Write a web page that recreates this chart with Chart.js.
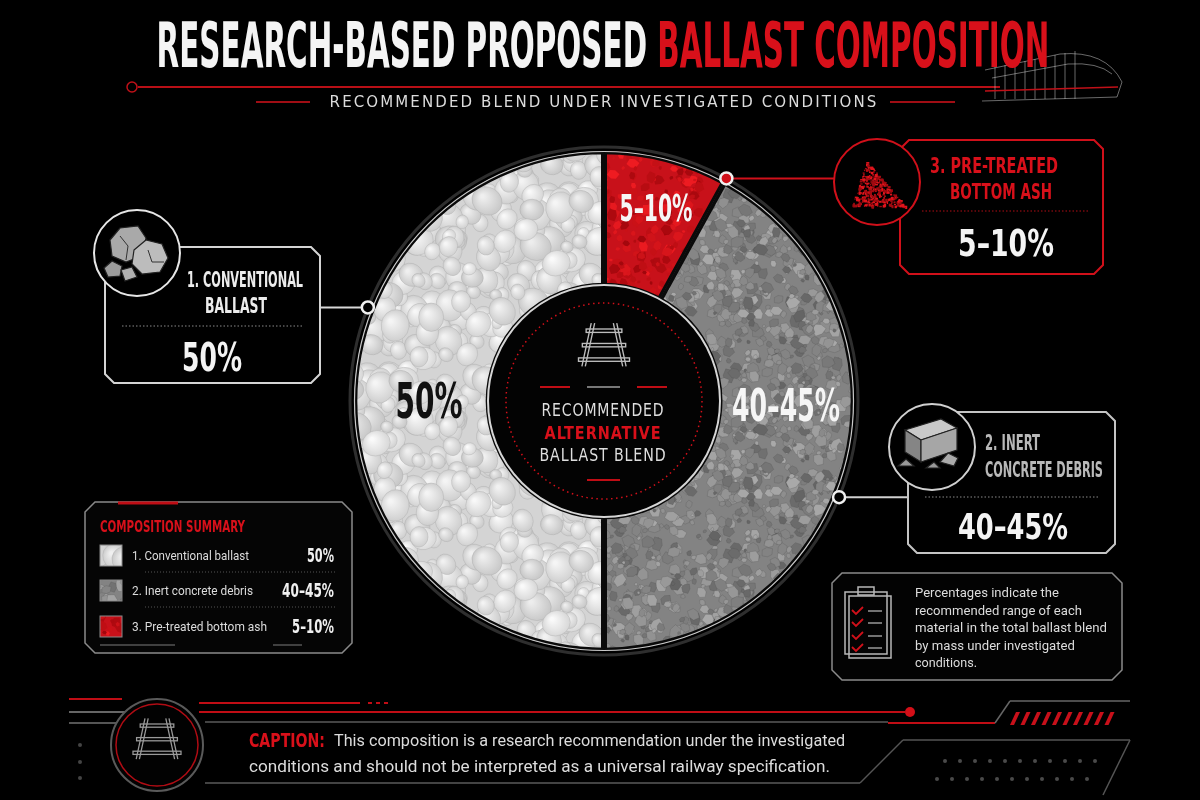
<!DOCTYPE html>
<html>
<head>
<meta charset="utf-8">
<title>Research-based proposed ballast composition</title>
<script src="https://cdn.jsdelivr.net/npm/chart.js@4.4.1/dist/chart.umd.min.js"></script>
<style>
  html, body { margin: 0; padding: 0; background: #000; }
  #wrap { position: relative; width: 1200px; height: 800px; overflow: hidden; background: #000; }
  #wrap canvas { position: absolute; left: 0; top: 0; }
  .t { position: absolute; white-space: nowrap; line-height: 1; }
</style>
</head>
<body>
<div id="wrap"><canvas id="ringChart" width="1200" height="800"></canvas></div>
<script>
var categories = ['1. Conventional ballast', '2. Inert concrete debris', '3. Pre-treated bottom ash'];
var shares = [50, 42, 8];                       // % of blend by mass (slice size)
var valueLabels = ['50%', '40–45%', '5–10%'];   // ranges printed on the graphic
var calloutTitles = [['1. CONVENTIONAL', 'BALLAST'], ['2. INERT', 'CONCRETE DEBRIS'], ['3. PRE-TREATED', 'BOTTOM ASH']];
var drawOrder = [2, 1, 0];                      // clockwise from 12 o'clock: ash, concrete, conventional

var COND = '"DejaVu Sans Condensed", "Liberation Sans Narrow", "DejaVu Sans", sans-serif';
var BODY = 'Roboto, "Noto Sans", sans-serif';
var RED = '#d0101a';
var wrap = document.getElementById('wrap');

// text overlay, squeezed to the width it has in the reference
function addText(html, x, y, o) {
    var el = document.createElement('div');
    el.className = 't';
    el.innerHTML = html;
    el.style.fontFamily = o.family || COND;
    el.style.fontSize = o.size + 'px';
    el.style.fontWeight = o.weight || 700;
    el.style.color = o.color || '#f2f2f2';
    if (o.ls) el.style.letterSpacing = o.ls + 'px';
    wrap.appendChild(el);
    var natural = el.getBoundingClientRect().width;
    var k = o.w ? o.w / natural : 1;
    var a = o.align || 'c';
    var tx = a === 'l' ? 0 : (a === 'r' ? -100 : -50);
    el.style.left = x + 'px';
    el.style.top = y + 'px';
    el.style.transformOrigin = (a === 'l' ? '0%' : (a === 'r' ? '100%' : '50%')) + ' 50%';
    el.style.transform = 'translate(' + tx + '%,-50%) scaleX(' + k.toFixed(3) + ')';
    return el;
}

function seeded(seed) {
    var s = seed;
    return function () { s = (s * 16807) % 2147483647; return s / 2147483647; };
}

// stone / concrete / ash textures for the slices
function makeTile(kind) {
    var N = 180;
    var c = document.createElement('canvas');
    c.width = c.height = N;
    var g = c.getContext('2d');
    var rnd = seeded([11, 23, 37][kind] * 1000 + 7);
    g.fillStyle = ['#d4d4d4', '#838383', '#c8111a'][kind];
    g.fillRect(0, 0, N, N);
    var count = [170, 520, 480][kind];
    for (var n = 0; n < count; n++) {
        var x = rnd() * N, y = rnd() * N;
        var r = kind === 0 ? 6 + rnd() * 10 : (kind === 1 ? 1.5 + rnd() * 6 : 1.5 + rnd() * 5);
        var v = rnd();
        [-N, 0, N].forEach(function (dx) {
            [-N, 0, N].forEach(function (dy) {
                var px = x + dx, py = y + dy;
                if (px < -20 || px > N + 20 || py < -20 || py > N + 20) return;
                g.beginPath();
                if (kind === 0) {
                    g.ellipse(px, py, r, r * 0.88, v * 3, 0, Math.PI * 2);
                    var gr = g.createRadialGradient(px - r * 0.3, py - r * 0.3, r * 0.1, px, py, r);
                    var hi = Math.floor(236 + v * 16), lo = Math.floor(196 + v * 20);
                    gr.addColorStop(0, 'rgb(' + hi + ',' + hi + ',' + hi + ')');
                    gr.addColorStop(1, 'rgb(' + lo + ',' + lo + ',' + lo + ')');
                    g.fillStyle = gr;
                    g.fill();
                    g.strokeStyle = 'rgba(165,165,165,0.45)'; g.lineWidth = 0.8; g.stroke();
                } else {
                    for (var j = 0; j < 6; j++) {
                        var ang = j / 6 * Math.PI * 2 + v, rr = r * (0.7 + ((j * 37 + n) % 10) / 25);
                        if (j) g.lineTo(px + Math.cos(ang) * rr, py + Math.sin(ang) * rr);
                        else g.moveTo(px + Math.cos(ang) * rr, py + Math.sin(ang) * rr);
                    }
                    g.closePath();
                    if (kind === 1) {
                        var gv = Math.floor(100 + v * 70);
                        g.fillStyle = 'rgb(' + gv + ',' + gv + ',' + gv + ')';
                        g.fill();
                        g.strokeStyle = 'rgba(70,70,70,0.3)'; g.lineWidth = 0.7; g.stroke();
                    } else {
                        g.fillStyle = 'rgb(' + Math.floor(160 + v * 80) + ',' + Math.floor(6 + v * 22) + ',' + Math.floor(12 + v * 22) + ')';
                        g.fill();
                    }
                }
            });
        });
    }
    return c;
}

var ctx0 = document.getElementById('ringChart').getContext('2d');
var patterns = [0, 1, 2].map(function (k) { return ctx0.createPattern(makeTile(k), 'repeat'); });

function arcFor(chart, i) {
    return chart.getDatasetMeta(0).data[drawOrder.indexOf(i)];
}

// where each callout dot sits along its slice
var dotFrac = [0.62, 0.552, 1.0];

function chamfer(ctx, x1, y1, x2, y2, c) {
    ctx.beginPath();
    ctx.moveTo(x1 + c, y1); ctx.lineTo(x2 - c, y1); ctx.lineTo(x2, y1 + c);
    ctx.lineTo(x2, y2 - c); ctx.lineTo(x2 - c, y2); ctx.lineTo(x1 + c, y2);
    ctx.lineTo(x1, y2 - c); ctx.lineTo(x1, y1 + c); ctx.closePath();
}

function line(ctx, x1, y1, x2, y2, color, lw, dash) {
    ctx.save();
    ctx.beginPath();
    ctx.moveTo(x1, y1); ctx.lineTo(x2, y2);
    ctx.strokeStyle = color; ctx.lineWidth = lw;
    if (dash) ctx.setLineDash(dash);
    ctx.stroke();
    ctx.restore();
}

function ring(ctx, x, y, r, color, lw, fill) {
    ctx.beginPath();
    ctx.arc(x, y, r, 0, Math.PI * 2);
    if (fill) { ctx.fillStyle = fill; ctx.fill(); }
    if (color) { ctx.strokeStyle = color; ctx.lineWidth = lw; ctx.stroke(); }
}

function poly(ctx, pts, fill, stroke) {
    ctx.beginPath();
    pts.forEach(function (p, i) { if (i) ctx.lineTo(p[0], p[1]); else ctx.moveTo(p[0], p[1]); });
    ctx.closePath();
    if (fill) { ctx.fillStyle = fill; ctx.fill(); }
    if (stroke) { ctx.strokeStyle = stroke; ctx.lineWidth = 1.2; ctx.stroke(); }
}

function drawRail(ctx, cx, cy, s, color) {
    ctx.save();
    ctx.strokeStyle = color; ctx.lineWidth = 1.6 * s;
    [[-20, 2], [-3, 5], [14, 8]].forEach(function (sl) {
        var hw = 18 * s + sl[1] * s * 1.5;
        ctx.strokeRect(cx - hw, cy + sl[0] * s, hw * 2, 4 * s);
    });
    [-1, 1].forEach(function (d) {
        ctx.beginPath();
        ctx.moveTo(cx + d * 11 * s, cy - 27 * s); ctx.lineTo(cx + d * 22 * s, cy + 24 * s);
        ctx.moveTo(cx + d * 15 * s, cy - 27 * s); ctx.lineTo(cx + d * 26 * s, cy + 24 * s);
        ctx.stroke();
    });
    ctx.restore();
}

var decor = {
    id: 'decor',
    beforeDatasetsDraw: function (chart) {
        var ctx = chart.ctx;
        ctx.save();

        // header rule, subtitle dashes, train sketch
        line(ctx, 138, 87, 1000, 87, '#b80f16', 2);
        ring(ctx, 132, 87, 5, '#c01018', 1.5, '#000');
        line(ctx, 256, 102, 310, 102, '#a00d14', 2);
        line(ctx, 890, 102, 955, 102, '#a00d14', 2);
        ctx.strokeStyle = 'rgba(210,210,210,0.5)'; ctx.lineWidth = 1;
        ctx.beginPath();
        ctx.moveTo(985, 70); ctx.lineTo(1060, 54); ctx.quadraticCurveTo(1106, 50, 1122, 82);
        ctx.lineTo(1117, 97); ctx.lineTo(982, 101);
        ctx.moveTo(992, 78); ctx.lineTo(1068, 64); ctx.quadraticCurveTo(1098, 62, 1112, 74);
        for (var tx = 995; tx <= 1075; tx += 10) { ctx.moveTo(tx, 69 - (tx - 985) * 0.2); ctx.lineTo(tx, 99); }
        ctx.stroke();
        line(ctx, 985, 91, 1118, 87, '#c01018', 1.5);

        // leader lines (under the ring)
        var pts = [0, 1, 2].map(function (i) {
            var a = arcFor(chart, i);
            var ang = a.startAngle + dotFrac[i] * (a.endAngle - a.startAngle);
            return [a.x + (a.outerRadius + 4) * Math.cos(ang), a.y + (a.outerRadius + 4) * Math.sin(ang)];
        });
        chart.$dots = pts;
        line(ctx, pts[0][0], pts[0][1], 320, pts[0][1], '#d8d8d8', 2);
        line(ctx, pts[1][0], pts[1][1], 908, pts[1][1], '#d0d0d0', 2);
        var dyr = pts[2][1] - 182;
        line(ctx, pts[2][0], pts[2][1], 877 - Math.sqrt(43 * 43 - dyr * dyr), pts[2][1], RED, 2);

        // callout 1: conventional ballast
        chamfer(ctx, 105, 247, 320, 383, 9);
        ctx.fillStyle = '#000'; ctx.fill(); ctx.strokeStyle = '#d4d4d4'; ctx.lineWidth = 2; ctx.stroke();
        ring(ctx, 137, 253, 43, '#e6e6e6', 2, '#000');
        poly(ctx, [[110, 240], [120, 228], [138, 226], [146, 238], [142, 256], [126, 262], [112, 256]], '#a9a9a9', '#222');
        poly(ctx, [[134, 250], [146, 240], [162, 244], [168, 258], [160, 272], [142, 274], [132, 264]], '#bcbcbc', '#222');
        poly(ctx, [[104, 268], [112, 261], [122, 266], [120, 276], [108, 277]], '#9c9c9c', '#222');
        poly(ctx, [[121, 270], [132, 267], [137, 277], [125, 281]], '#b0b0b0', '#222');
        ctx.strokeStyle = '#333'; ctx.lineWidth = 1;
        ctx.beginPath(); ctx.moveTo(120, 236); ctx.lineTo(128, 246); ctx.lineTo(126, 260);
        ctx.moveTo(148, 250); ctx.lineTo(152, 262); ctx.lineTo(164, 262); ctx.stroke();
        line(ctx, 122, 326, 303, 326, '#8a8a8a', 1, [1.5, 2]);

        // callout 3: pre-treated bottom ash
        chamfer(ctx, 900, 140, 1103, 274, 9);
        ctx.fillStyle = '#000'; ctx.fill(); ctx.strokeStyle = RED; ctx.lineWidth = 2; ctx.stroke();
        ring(ctx, 877, 182, 43, RED, 2, '#000');
        var rnd = seeded(4242);
        for (var n = 0; n < 320; n++) {
            var u = rnd(), v = rnd();
            if (u + v > 1) { u = 1 - u; v = 1 - v; }
            var px = 866 + u * (852 - 866) + v * (906 - 866);
            var py = 160 + u * (205 - 160) + v * (207 - 160);
            ctx.fillStyle = rnd() > 0.5 ? '#e0141c' : '#a00a10';
            ctx.fillRect(px, py, 1 + rnd() * 2.2, 1 + rnd() * 2.2);
        }
        line(ctx, 922, 211, 1088, 211, '#b00d15', 1, [1.5, 2]);

        // callout 2: inert concrete debris
        chamfer(ctx, 908, 412, 1115, 553, 9);
        ctx.fillStyle = '#000'; ctx.fill(); ctx.strokeStyle = '#c4c4c4'; ctx.lineWidth = 2; ctx.stroke();
        ring(ctx, 932, 447, 43, '#d0d0d0', 2, '#000');
        poly(ctx, [[905, 430], [941, 419], [957, 428], [921, 440]], '#c9c9c9', '#222');
        poly(ctx, [[905, 430], [921, 440], [921, 462], [905, 452]], '#858585', '#222');
        poly(ctx, [[921, 440], [957, 428], [957, 450], [921, 462]], '#a6a6a6', '#222');
        poly(ctx, [[898, 466], [906, 459], [914, 466]], '#999', '#222');
        poly(ctx, [[940, 462], [948, 453], [958, 458], [954, 466]], '#aaa', '#222');
        poly(ctx, [[926, 468], [934, 462], [940, 468]], '#999', '#222');
        line(ctx, 925, 497, 1100, 497, '#8a8a8a', 1, [1.5, 2]);

        // composition summary panel
        chamfer(ctx, 85, 502, 352, 653, 10);
        ctx.fillStyle = '#050505'; ctx.fill(); ctx.strokeStyle = '#8a8a8a'; ctx.lineWidth = 1.5; ctx.stroke();
        line(ctx, 118, 503, 178, 503, '#c00d15', 3);
        line(ctx, 145, 572, 335, 572, '#555', 1, [1, 2]);
        line(ctx, 145, 607, 335, 607, '#555', 1, [1, 2]);
        line(ctx, 100, 645, 175, 645, '#555', 1.5);
        line(ctx, 273, 645, 302, 645, '#555', 1.5);

        // note panel with clipboard
        chamfer(ctx, 832, 573, 1122, 680, 10);
        ctx.fillStyle = '#030303'; ctx.fill(); ctx.strokeStyle = '#8a8a8a'; ctx.lineWidth = 1.5; ctx.stroke();
        ctx.strokeStyle = '#b8b8b8'; ctx.lineWidth = 1.5;
        ctx.strokeRect(849, 596, 42, 62);
        ctx.strokeRect(845, 592, 42, 62);
        ctx.strokeRect(858, 587, 16, 8);
        [611, 623, 636, 648].forEach(function (yy) {
            ctx.strokeStyle = RED; ctx.lineWidth = 1.8;
            ctx.beginPath(); ctx.moveTo(852, yy - 1); ctx.lineTo(856, yy + 3); ctx.lineTo(863, yy - 4); ctx.stroke();
            line(ctx, 868, yy, 882, yy, '#999', 1.5);
        });

        // footer ornaments
        line(ctx, 69, 699, 122, 699, '#c00d15', 2);
        line(ctx, 69, 712, 130, 712, '#666', 2);
        line(ctx, 69, 723, 130, 723, '#555', 2);
        [745, 762, 778].forEach(function (yy) { ring(ctx, 80, yy, 2, null, 0, '#444'); });
        line(ctx, 199, 703, 360, 703, '#c00d15', 2);
        [368, 376, 384].forEach(function (xx) { line(ctx, xx, 703, xx + 4, 703, '#c00d15', 2); });
        line(ctx, 199, 712, 905, 712, '#c00d15', 2);
        ring(ctx, 910, 712, 5, null, 0, '#d40f18');
        line(ctx, 205, 722, 888, 722, '#5a5a5a', 1.5);
        line(ctx, 888, 723, 995, 723, '#c00d15', 2);
        line(ctx, 995, 723, 1010, 701, '#666', 1.5);
        line(ctx, 1010, 701, 1130, 701, '#666', 1.5);
        for (var st = 0; st < 10; st++) {
            var sx = 1010 + st * 10.5;
            poly(ctx, [[sx, 725], [sx + 4, 725], [sx + 10, 712], [sx + 6, 712]], '#c8101a');
        }
        line(ctx, 903, 740, 1130, 740, '#555', 1.5);
        line(ctx, 903, 740, 860, 783, '#555', 1.5);
        line(ctx, 1130, 740, 1103, 795, '#555', 1.5);
        line(ctx, 205, 783, 860, 783, '#5a5a5a', 1.5);
        for (var dx = 945; dx <= 1100; dx += 15) ring(ctx, dx, 761, 2, null, 0, '#4a4a4a');
        for (var dx2 = 937; dx2 <= 1090; dx2 += 15) ring(ctx, dx2, 779, 2, null, 0, '#4a4a4a');
        ring(ctx, 157, 745, 46, '#5a5a5a', 2, '#020202');
        ring(ctx, 157, 745, 41, '#b00c14', 1.5);
        drawRail(ctx, 157, 740, 0.8, '#9a9a9a');

        ctx.restore();
    },
    afterDatasetsDraw: function (chart) {
        var ctx = chart.ctx;
        var a = arcFor(chart, 0);
        var cx = a.x, cy = a.y, R = a.outerRadius, r = a.innerRadius;
        ctx.save();
        // outer rims
        ring(ctx, cx, cy, R - 0.5, 'rgba(235,235,235,0.85)', 1.2);
        ring(ctx, cx, cy, R + 4, '#2e2e2e', 3);
        // centre badge
        ring(ctx, cx, cy, r + 1, '#d6d6d6', 2, '#030303');
        ctx.save();
        ctx.setLineDash([1.5, 3.5]);
        ring(ctx, cx, cy, 98, '#d4101a', 1.5);
        ctx.restore();
        drawRail(ctx, cx, cy - 55, 0.85, '#bdbdbd');
        line(ctx, cx - 64, cy - 14, cx - 34, cy - 14, '#c00d15', 2);
        line(ctx, cx - 17, cy - 14, cx + 16, cy - 14, '#777', 2);
        line(ctx, cx + 33, cy - 14, cx + 63, cy - 14, '#c00d15', 2);
        line(ctx, cx - 17, cy + 79, cx + 16, cy + 79, '#c00d15', 2);

        // callout dots
        var d = chart.$dots;
        ring(ctx, d[0][0], d[0][1], 6, '#f0f0f0', 2.5, '#000');
        ring(ctx, d[1][0], d[1][1], 6, '#f0f0f0', 2.5, '#000');
        ring(ctx, d[2][0], d[2][1], 6, '#f0f0f0', 2.5, '#d0101a');

        // summary swatches use the slice textures
        [555, 590, 626].forEach(function (yy, i) {
            ctx.fillStyle = patterns[i];
            ctx.fillRect(100, yy - 10, 22, 21);
            ctx.strokeStyle = '#8a8a8a'; ctx.lineWidth = 1;
            ctx.strokeRect(100, yy - 10, 22, 21);
        });
        ctx.restore();
    }
};

var chart = new Chart(ctx0, {
    type: 'doughnut',
    data: {
        labels: drawOrder.map(function (i) { return categories[i]; }),
        datasets: [{
            data: drawOrder.map(function (i) { return shares[i]; }),
            backgroundColor: drawOrder.map(function (i) { return patterns[i]; }),
            borderColor: '#0a0a0a',
            borderWidth: 3,
            hoverBorderWidth: 3,
            borderAlign: 'inner',
            offset: 0,
            hoverOffset: 0
        }]
    },
    options: {
        responsive: false,
        animation: false,
        events: [],
        cutout: '46%',
        rotation: 0,
        layout: { padding: { left: 354, right: 346, top: 151, bottom: 149 } },
        plugins: {
            legend: { display: false },
            tooltip: { enabled: false }
        }
    },
    plugins: [decor]
});

// --- text ---
addText('RESEARCH-BASED PROPOSED <span style="color:#d8101a">BALLAST COMPOSITION</span>', 603, 45, { size: 63, w: 892, color: '#f4f4f4' });
addText('RECOMMENDED BLEND UNDER INVESTIGATED CONDITIONS', 604, 102, { size: 16, w: 549, weight: 400, color: '#dcdcdc', ls: 2 });

// labels inside the ring, placed from each arc's own geometry
var labelSpot = [{ f: 0.5, r: 0.70, w: 67, size: 50, color: '#111' },
                 { f: 0.415, r: 0.73, w: 108, size: 44, color: '#f6f6f6' },
                 { f: 0.52, r: 0.80, w: 73, size: 37, color: '#f6f6f6' }];
[0, 1, 2].forEach(function (i) {
    var a = arcFor(chart, i), s = labelSpot[i];
    var ang = a.startAngle + s.f * (a.endAngle - a.startAngle);
    var rr = a.outerRadius * s.r;
    addText(valueLabels[i], a.x + rr * Math.cos(ang), a.y + rr * Math.sin(ang), { size: s.size, w: s.w, color: s.color });
});

// centre badge
addText('RECOMMENDED', 603, 410, { size: 18, w: 123, weight: 400, color: '#dedede', ls: 1 });
addText('ALTERNATIVE', 603, 433, { size: 18, w: 117, color: '#d8101a', ls: 1 });
addText('BALLAST BLEND', 603, 455, { size: 18, w: 127, weight: 400, color: '#dedede', ls: 1 });

// callouts
addText(calloutTitles[0][0], 245, 280, { size: 22, w: 116, color: '#ececec' });
addText(calloutTitles[0][1], 236, 306, { size: 22, w: 62, color: '#ececec' });
addText(valueLabels[0], 212, 357, { size: 39, w: 60, color: '#f4f4f4' });
addText(calloutTitles[2][0], 994, 166, { size: 21, w: 128, color: '#d8101a' });
addText(calloutTitles[2][1], 1001, 192, { size: 21, w: 102, color: '#d8101a' });
addText(valueLabels[2], 1006, 243, { size: 37, w: 96, color: '#f4f4f4' });
addText(calloutTitles[1][0], 985, 443, { size: 22, w: 55, color: '#b8b8b8', align: 'l' });
addText(calloutTitles[1][1], 985, 470, { size: 22, w: 118, color: '#b8b8b8', align: 'l' });
addText(valueLabels[1], 1013, 527, { size: 35, w: 110, color: '#f4f4f4' });

// summary panel
addText('COMPOSITION SUMMARY', 100, 527, { size: 16, w: 145, color: '#d8101a', align: 'l' });
var rowY = [555, 590, 626], rowW = [117, 121, 135], valW = [27, 52, 42];
categories.forEach(function (c, i) {
    addText(c, 132, rowY[i], { size: 13, w: rowW[i], weight: 400, family: BODY, color: '#dcdcdc', align: 'l' });
    addText(valueLabels[i], 334, rowY[i], { size: 19, w: valW[i], color: '#f0f0f0', align: 'r' });
});

// note panel
var noteLines = ['Percentages indicate the', 'recommended range of each', 'material in the total ballast blend', 'by mass under investigated', 'conditions.'];
var noteW = [144, 167, 192, 160, 62];
noteLines.forEach(function (s, i) {
    addText(s, 915, 592 + i * 17.5, { size: 13, w: noteW[i], weight: 400, family: BODY, color: '#dcdcdc', align: 'l' });
});

// caption
addText('CAPTION:', 249, 740, { size: 19, w: 76, color: '#d8101a', align: 'l' });
addText('This composition is a research recommendation under the investigated', 334, 740, { size: 17, w: 511, weight: 400, family: BODY, color: '#dcdcdc', align: 'l' });
addText('conditions and should not be interpreted as a universal railway specification.', 249, 766, { size: 17, w: 581, weight: 400, family: BODY, color: '#dcdcdc', align: 'l' });
</script>
</body>
</html>
